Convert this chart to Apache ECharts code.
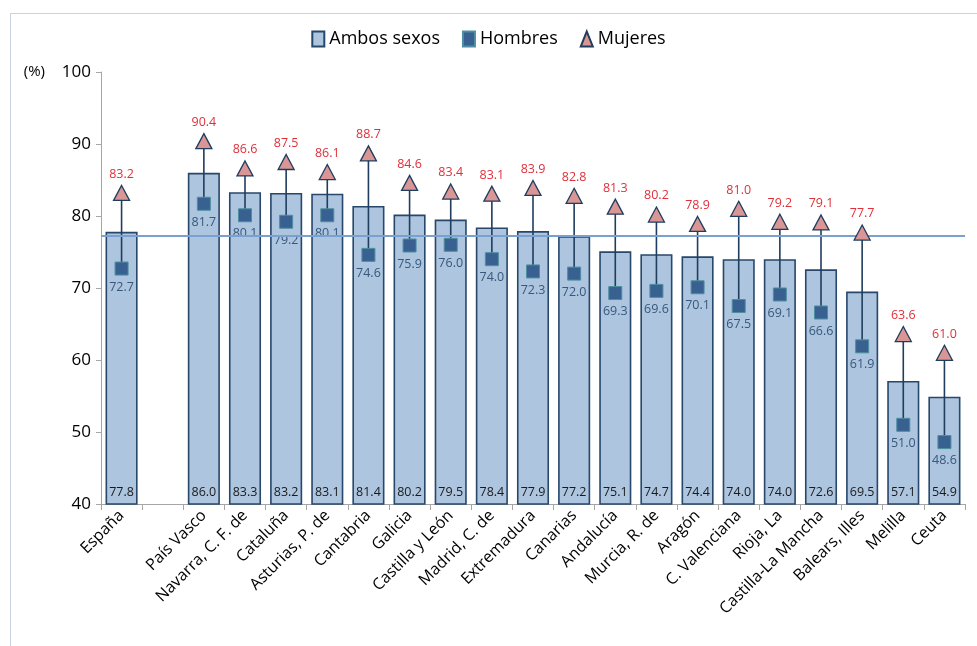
<!DOCTYPE html>
<html>
<head>
<meta charset="utf-8">
<script src="https://cdn.jsdelivr.net/npm/echarts@6/dist/echarts.min.js"></script>
<style>
html,body{margin:0;padding:0;background:#fff;}
#wrap{position:relative;width:977px;height:646px;overflow:hidden;}
#frame{position:absolute;left:10px;top:13px;width:980px;height:700px;border-left:1px solid #c9d3e3;border-top:1px solid #c9d3e3;}
#chart{position:absolute;left:0;top:0;width:977px;height:646px;}
</style>
</head>
<body>
<div id="wrap"><div id="frame"></div><div id="chart"></div></div>
<script>
const categories = ['España', '', 'País Vasco', 'Navarra, C. F. de', 'Cataluña', 'Asturias, P. de', 'Cantabria', 'Galicia', 'Castilla y León', 'Madrid, C. de', 'Extremadura', 'Canarias', 'Andalucía', 'Murcia, R. de', 'Aragón', 'C. Valenciana', 'Rioja, La', 'Castilla-La Mancha', 'Balears, Illes', 'Melilla', 'Ceuta'];
const ambos = [77.8, null, 86.0, 83.3, 83.2, 83.1, 81.4, 80.2, 79.5, 78.4, 77.9, 77.2, 75.1, 74.7, 74.4, 74.0, 74.0, 72.6, 69.5, 57.1, 54.9];
const hombres = [72.7, null, 81.7, 80.1, 79.2, 80.1, 74.6, 75.9, 76.0, 74.0, 72.3, 72.0, 69.3, 69.6, 70.1, 67.5, 69.1, 66.6, 61.9, 51.0, 48.6];
const mujeres = [83.2, null, 90.4, 86.6, 87.5, 86.1, 88.7, 84.6, 83.4, 83.1, 83.9, 82.8, 81.3, 80.2, 78.9, 81.0, 79.2, 79.1, 77.7, 63.6, 61.0];
const referenceLine = 77.2;
const yTicks = {min: 40, max: 100, interval: 10};

const rangeData = [];
categories.forEach((c, i) => {
  if (hombres[i] != null && mujeres[i] != null) rangeData.push([i, hombres[i], mujeres[i]]);
});

const chart = echarts.init(document.getElementById('chart'));
chart.setOption({
  animation: false,
  legend: {
    top: 25,
    left: 'center',
    itemGap: 22,
    itemWidth: 12,
    itemHeight: 15,
    textStyle: {fontFamily: 'Open Sans', fontSize: 18, color: '#000'},
    data: [
      {name: 'Ambos sexos', icon: 'rect'},
      {name: 'Hombres', icon: 'rect'},
      {name: 'Mujeres', icon: 'triangle'}
    ]
  },
  grid: {left: 101, right: 12, top: 72, bottom: 142, containLabel: false},
  xAxis: {
    type: 'category',
    data: categories,
    axisLine: {lineStyle: {color: '#a6a6a6'}},
    axisTick: {show: true, alignWithLabel: false, length: 6, lineStyle: {color: '#a6a6a6'}},
    axisLabel: {rotate: 45, interval: 0, fontFamily: 'Open Sans', fontSize: 16, color: '#000', margin: 9}
  },
  yAxis: {
    type: 'value',
    min: yTicks.min, max: yTicks.max, interval: yTicks.interval,
    name: '(%)',
    nameLocation: 'end',
    nameGap: 0,
    nameTextStyle: {fontFamily: 'Open Sans', fontSize: 15, color: '#000', align: 'right', verticalAlign: 'middle', padding: [0, 56, 0, 0]},
    axisLine: {show: true, lineStyle: {color: '#a6a6a6'}},
    axisTick: {show: true, length: 5, lineStyle: {color: '#a6a6a6'}},
    splitLine: {show: false},
    axisLabel: {fontFamily: 'Open Sans', fontSize: 17, color: '#000', margin: 10}
  },
  series: [
    {
      name: 'Ambos sexos',
      type: 'bar',
      data: ambos,
      barCategoryGap: '22%',
      itemStyle: {color: '#adc5de', borderColor: '#27476b', borderWidth: 1.6},
      label: {show: true, position: 'insideBottom', distance: 6, fontFamily: 'Open Sans', fontSize: 12.5, color: '#1a1a1a', formatter: p => p.value.toFixed(1)},
      z: 1
    },
    {
      name: 'range',
      type: 'custom',
      data: rangeData,
      encode: {x: 0, y: [1, 2]},
      renderItem: (params, api) => {
        const a = api.coord([api.value(0), api.value(1)]);
        const b = api.coord([api.value(0), api.value(2)]);
        return {type: 'line', shape: {x1: a[0], y1: a[1], x2: b[0], y2: b[1]}, style: {stroke: '#1f3d5e', lineWidth: 1.6}};
      },
      markLine: {
        silent: true,
        symbol: 'none',
        label: {show: false},
        lineStyle: {color: '#7aa0cf', width: 2, type: 'solid'},
        data: [{yAxis: referenceLine}]
      },
      z: 2
    },
    {
      name: 'Hombres',
      type: 'scatter',
      data: hombres,
      symbol: 'rect',
      symbolSize: 13,
      itemStyle: {color: '#386090', borderColor: '#4d8fa0', borderWidth: 1, opacity: 1},
      label: {show: true, position: 'bottom', distance: 5, fontFamily: 'Open Sans', fontSize: 12.5, color: '#37587c', formatter: p => p.value.toFixed(1)},
      z: 4
    },
    {
      name: 'Mujeres',
      type: 'scatter',
      data: mujeres,
      symbol: 'triangle',
      symbolSize: [16, 15],
      itemStyle: {color: '#d99695', borderColor: '#1f3d5e', borderWidth: 1.3, opacity: 1},
      label: {show: true, position: 'top', distance: 4, fontFamily: 'Open Sans', fontSize: 12.5, color: '#e0303a', formatter: p => p.value.toFixed(1)},
      z: 5
    }
  ]
});
</script>
</body>
</html>
